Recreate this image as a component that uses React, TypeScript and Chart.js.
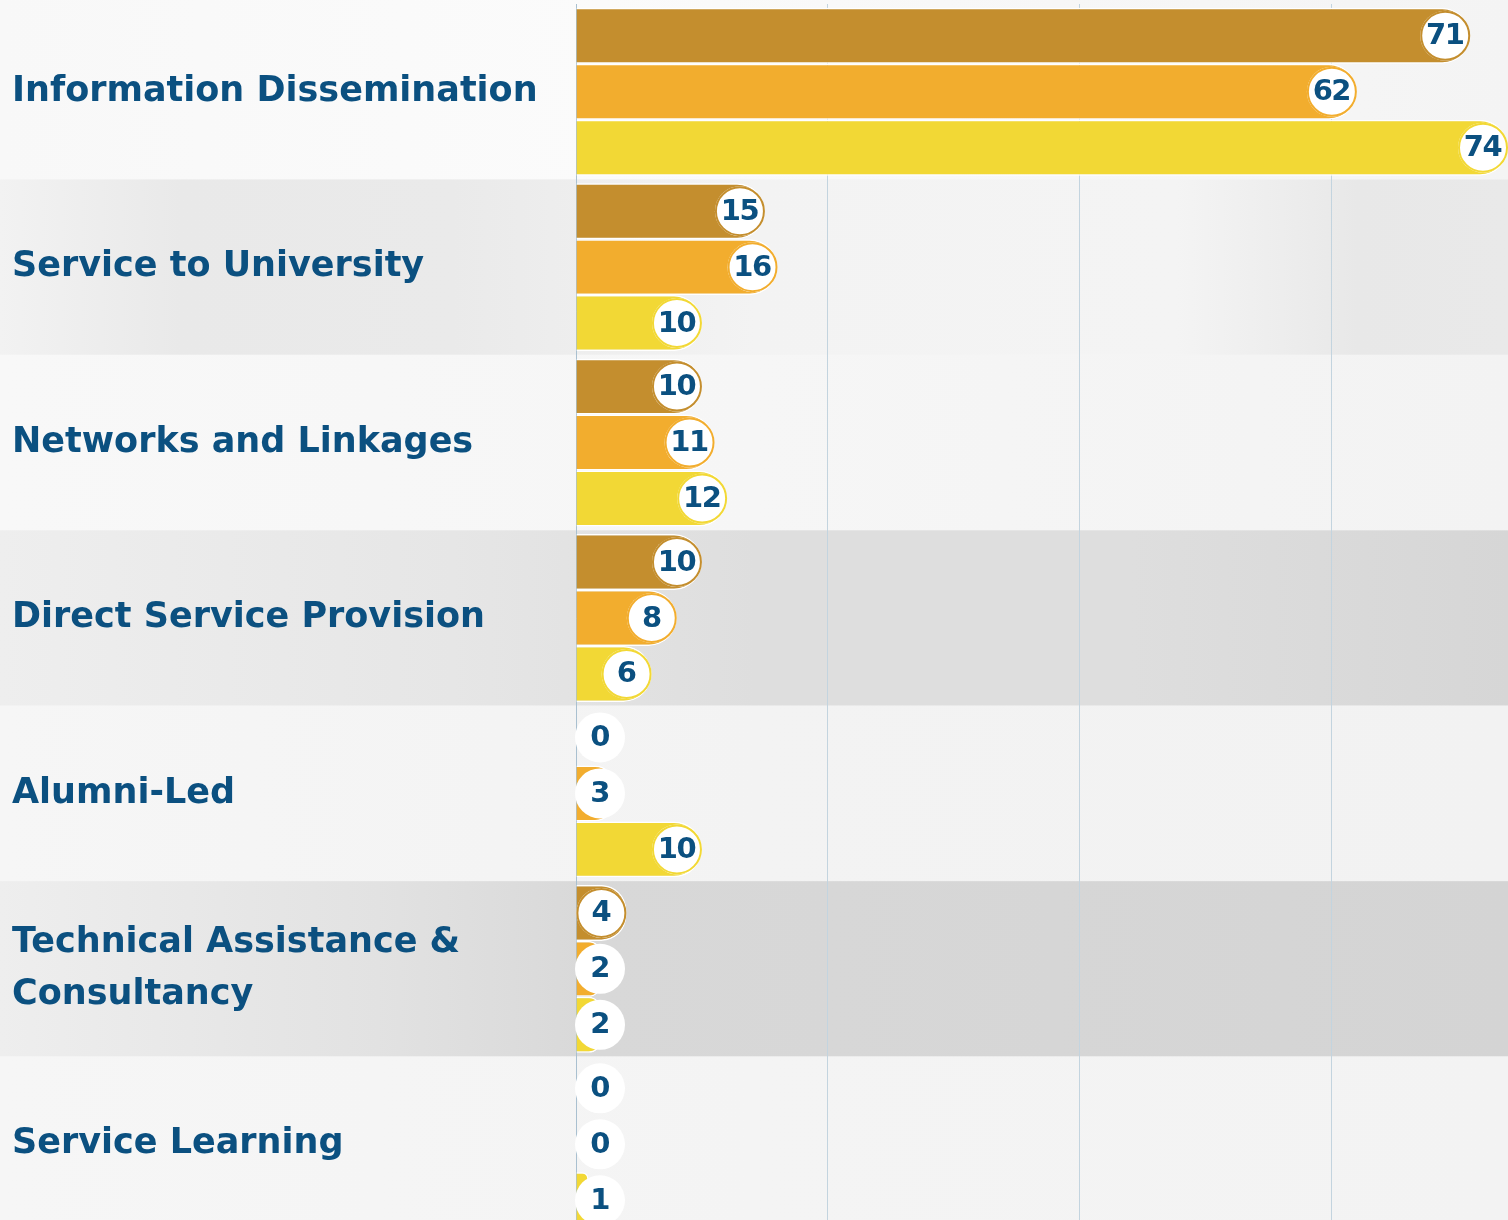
import React, { useEffect, useRef } from "react";
import { Chart, registerables } from "chart.js";

Chart.register(...registerables);

const categories: (string | string[])[] = [
  "Information Dissemination",
  "Service to University",
  "Networks and Linkages",
  "Direct Service Provision",
  "Alumni-Led",
  ["Technical Assistance &", "Consultancy"],
  "Service Learning",
];

const seriesNames = ["Series 1", "Series 2", "Series 3"];
const series1 = [71, 15, 10, 10, 0, 4, 0];
const series2 = [62, 16, 11, 8, 3, 2, 0];
const series3 = [74, 10, 12, 6, 10, 2, 1];

const xMax = 74;
const xStep = 20;

const seriesColors = ["#C48E2E", "#F2AD2E", "#F2D835"];
const textColor = "#0B5080";
const fontFamily = "'DejaVu Sans', sans-serif";

// per-row background gradient stops (style only)
const bandStops: [number, string][][] = [
  [[0, "#f8f8f8"], [0.4, "#fbfbfb"], [0.7, "#f7f7f7"], [1, "#f4f4f4"]],
  [[0, "#f2f2f2"], [0.12, "#e9e9e9"], [0.3, "#eaeaea"], [0.5, "#f3f3f3"], [0.78, "#f4f4f4"], [0.9, "#e8e8e8"], [1, "#e9e9e9"]],
  [[0, "#f8f8f8"], [0.5, "#f6f6f6"], [1, "#f3f3f3"]],
  [[0, "#eeeeee"], [0.3, "#e6e6e6"], [0.5, "#dedede"], [0.75, "#dedede"], [1, "#d6d6d6"]],
  [[0, "#f6f6f6"], [0.5, "#f3f3f3"], [1, "#f2f2f2"]],
  [[0, "#eeeeee"], [0.25, "#e2e2e2"], [0.4, "#d8d8d8"], [0.7, "#d6d6d6"], [1, "#d4d4d4"]],
  [[0, "#f6f6f6"], [0.5, "#f4f4f4"], [1, "#f3f3f3"]],
];

const bandPlugin = {
  id: "bands",
  beforeDraw(chart: any) {
    const { ctx, width, scales } = chart;
    const y = scales.y;
    const n = categories.length;
    const step = (y.bottom - y.top) / n;
    ctx.save();
    ctx.fillStyle = "#f8f8f8";
    ctx.fillRect(0, 0, width, chart.height);
    for (let i = 0; i < n; i++) {
      const c = y.getPixelForValue(i);
      const top = c - step / 2;
      const g = ctx.createLinearGradient(0, 0, width, 0);
      bandStops[i].forEach(([o, col]) => g.addColorStop(o, col));
      ctx.fillStyle = g;
      ctx.fillRect(0, i === 0 ? 0 : top, width, i === 0 ? top + step : step);
    }
    ctx.restore();
  },
};

const circlePlugin = {
  id: "circleLabels",
  afterDatasetsDraw(chart: any) {
    const { ctx, scales } = chart;
    const left = scales.x.left;
    const r = 25;
    ctx.save();
    chart.data.datasets.forEach((ds: any, di: number) => {
      const meta = chart.getDatasetMeta(di);
      meta.data.forEach((bar: any, i: number) => {
        const v = ds.data[i];
        const end = bar.x;
        const cx = Math.max(end - r, left + r - 1);
        const cy = bar.y;
        ctx.beginPath();
        ctx.arc(cx, cy, r, 0, Math.PI * 2);
        ctx.fillStyle = "#ffffff";
        ctx.fill();
        if (end - left >= 2 * r - 2) {
          ctx.lineWidth = 2;
          ctx.strokeStyle = seriesColors[di];
          ctx.beginPath();
          ctx.arc(cx, cy, r - 1, 0, Math.PI * 2);
          ctx.stroke();
        }
        ctx.fillStyle = textColor;
        ctx.font = `bold 29px ${fontFamily}`;
        try {
          (ctx as any).letterSpacing = "-1.5px";
        } catch (e) {}
        ctx.textAlign = "center";
        ctx.textBaseline = "middle";
        ctx.fillText(String(v), cx - 0.5, cy + 1);
      });
    });
    ctx.restore();
  },
};

export default function App() {
  const ref = useRef<HTMLCanvasElement | null>(null);

  useEffect(() => {
    document.body.style.margin = "0";
    const canvas = ref.current!;
    const chart = new Chart(canvas, {
      type: "bar",
      data: {
        labels: categories as any,
        datasets: [series1, series2, series3].map((d, i) => ({
          label: seriesNames[i],
          data: d,
          backgroundColor: seriesColors[i],
          borderColor: "#ffffff",
          borderWidth: 1.5,
          borderSkipped: "start",
          borderRadius: 28,
          categoryPercentage: 0.957,
          barPercentage: 1,
        })),
      },
      options: {
        indexAxis: "y",
        animation: false,
        responsive: false,
        maintainAspectRatio: false,
        layout: { padding: { left: 12, top: 4, right: 0, bottom: 0 } },
        plugins: {
          legend: { display: false },
          tooltip: { enabled: false },
        },
        scales: {
          x: {
            min: 0,
            max: xMax,
            ticks: { display: false, stepSize: xStep },
            grid: { color: "#c3d4df", lineWidth: 1, drawTicks: false },
            border: { display: false },
            afterFit(scale: any) {
              scale.height = 0;
              scale.paddingLeft = 0;
              scale.paddingRight = 0;
            },
          },
          y: {
            ticks: {
              crossAlign: "far",
              padding: 0,
              color: textColor,
              font: { family: fontFamily, weight: "bold", size: 35, lineHeight: 1.46 },
            },
            grid: { display: false, drawTicks: false },
            border: { display: true, color: "#a9c0d0", width: 1 },
            afterFit(scale: any) {
              scale.width = 564;
              scale.paddingTop = 0;
              scale.paddingBottom = 0;
            },
          },
        },
      },
      plugins: [bandPlugin, circlePlugin],
    } as any);
    return () => chart.destroy();
  }, []);

  return (
    <div style={{ width: 1508, height: 1220, overflow: "hidden" }}>
      <canvas ref={ref} width={1508} height={1232} style={{ display: "block" }} />
    </div>
  );
}
